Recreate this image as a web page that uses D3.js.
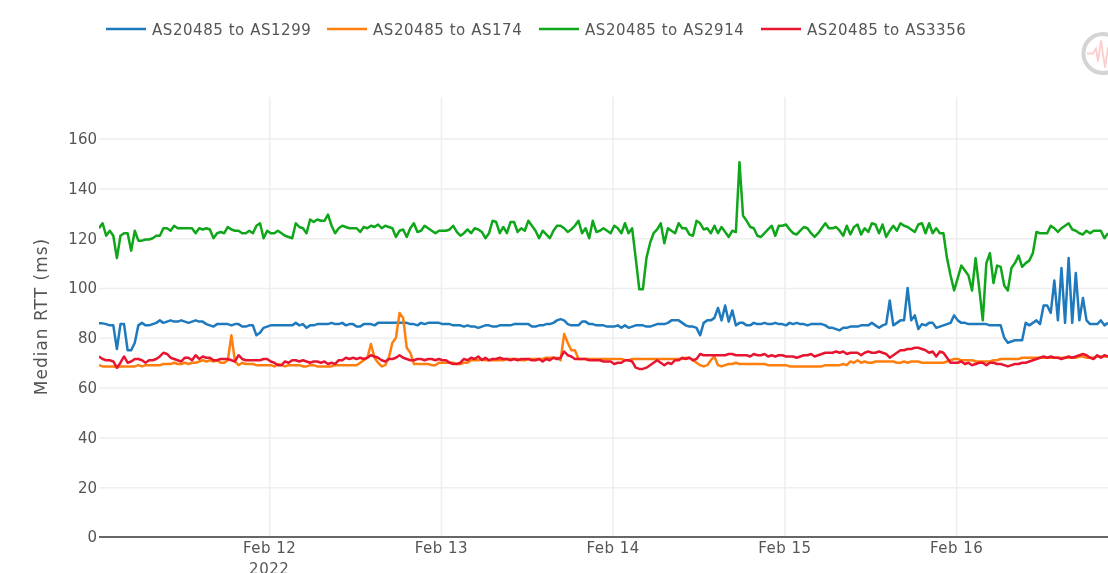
<!DOCTYPE html>
<html><head><meta charset="utf-8">
<script src="https://cdn.jsdelivr.net/npm/d3@7/dist/d3.min.js"></script>
<style>html,body{margin:0;padding:0;background:#fff;overflow:hidden}svg{display:block;filter:blur(0.45px)}text{font-family:"DejaVu Sans",sans-serif;fill:#555}</style>
</head><body><svg id="c" width="1108" height="573"></svg>
<script>
const seriesNames=["AS20485 to AS1299","AS20485 to AS174","AS20485 to AS2914","AS20485 to AS3356"];
const seriesColors=["#1f7abd","#ff7f0e","#0fa61a","#e81530"];
const yTicks=[0,20,40,60,80,100,120,140,160];
const dayTicks=["2022-02-12","2022-02-13","2022-02-14","2022-02-15","2022-02-16"];
const dayLabels=["Feb 12","Feb 13","Feb 14","Feb 15","Feb 16"];
const firstTime="2022-02-11T00:13:00Z";
const as1299=[85.8,85.8,85.5,85,85,75.5,85.5,85.5,75,75,
78,85,86,85,85,85.5,86,87,86,86.5,
87,86.5,86.5,87,86.5,86,86.5,87,86.5,86.5,
85.5,85,84.5,85.5,85.5,85.5,85.5,85,85.5,85.5,
84.5,84.5,85,85,81,82,84,84.5,85,85,
85,85,85,85,85,86,85,85.5,84,85,
85,85.5,85.5,85.5,85.5,86,85.5,85.5,86,85,
85.5,85.5,84.5,84.5,85.5,85.5,85.5,85,86,86,
86,86,86,86,86,86,86,85.5,85.5,85,
86,85.5,86,86,86,86,85.5,85.5,85.5,85,
85,85,84.5,85,84.5,84.5,84,84.5,85,85,
84.5,84.5,85,85,85,85,85.5,85.5,85.5,85.5,
85.5,84.5,84.5,85,85,85.5,85.5,86,87,87.5,
87,85.5,85,85,85,86.5,86.5,85.5,85.5,85,
85,85,84.5,84.5,84.5,85,84,85,84,84.5,
85,85,85,84.5,84.5,85,85.5,85.5,85.5,86,
87,87,87,86,85,84.5,84.5,84,81,86,
87,87,88,92,87,93,86.5,91,85,86,
86,85,85,86,85.5,85.5,86,85.5,85.5,86,
85.5,85.5,85,86,85.5,86,85.5,85.5,85,85.5,
85.5,85.5,85.5,85,84,84,83.5,83,84,84,
84.5,84.5,84.5,85,85,85,86,85,84,85,
85.5,95,85,86,87,87,100,87,89,83.5,
85.5,85,86,86,84,84.5,85,85.5,86,89,
87,86,86,85.5,85.5,85.5,85.5,85.5,85.5,85,
85,85,85,80,78,78.5,79,79,79,86,
85,86,87,85.5,93,93,90,103,87,108,
86,112,86,106,87,96,87,85.5,85.5,85.5,
87,85,86];
const as174=[69,68.5,68.5,68.5,68.5,68,68.5,68.5,68.5,68.5,
68.5,69,68.5,69,69,69,69,69,69.5,69.5,
69.5,70,69.5,69.5,70,69.5,70,70,70.5,71,
70.5,71,70.5,71,70,70,71,81,70.5,69,
70,69.5,69.5,69.5,69,69,69,69,69,68.5,
69.5,69,68.5,69,69,69,69,68.5,68.5,69,
69,68.5,68.5,68.5,68.5,68.5,69,69,69,69,
69,69,69,70,71,72,77.5,72,70,68.5,
69,72,78,80,90,88,76,74,69.5,69.5,
69.5,69.5,69.5,69,69,70,70,70,70,70,
69.5,69.5,70,70,71,71,71,71.5,71,71,
71,71,71,71,71.5,71.5,71.5,71.5,71,71,
71.5,71.5,71.5,71.5,71.5,72,72,72,72,71,
81.5,78,75,75,71.5,71.5,71.5,71.5,71.5,71.5,
71.5,71.5,71.5,71.5,71.5,71.5,71.5,71,71,71.5,
71.5,71.5,71.5,71.5,71.5,71.5,71.5,71.5,71.5,71.5,
71.5,71.5,71.5,71.5,72,72,71,70,69,68.5,
69,71,72.5,69,68.5,69,69.5,69.5,70,69.5,
69.5,69.5,69.5,69.5,69.5,69.5,69.5,69,69,69,
69,69,69,68.5,68.5,68.5,68.5,68.5,68.5,68.5,
68.5,68.5,68.5,69,69,69,69,69,69.5,69,
70.5,70,71,70,70.5,70,70,70.5,70.5,70.5,
70.5,70.5,70.5,70,70,70.5,70,70.5,70.5,70.5,
70,70,70,70,70,70,70,70.5,71,71.5,
71.5,71,71,71,71,70.5,70.5,70.5,70.5,70.5,
71,71,71.5,71.5,71.5,71.5,71.5,71.5,72,72,
72,72,72,72,72,72,72,72,72,72,
72,72,72,72,72.5,72.5,72,72,72,72.5,
72.5,72.5,72.5];
const as2914=[124,126,121,123,121,112,121,122,122,115,
123,119,119,119.5,119.5,120,121,121,124,124,
123,125,124,124,124,124,124,122,124,123.5,
124,123.5,120,122,122.5,122,124.5,123.5,123,123,
122,122,123,122,125,126,120,123,122,122,
123,122,121,120.5,120,126,124.5,124,122,127.5,
126.5,127.5,127,127,129.5,125,122,124,125,124.5,
124,124,124,122.5,124.5,124,125,124.5,125.5,124,
125,124.5,124,120.5,123,123.5,120.5,124,126,122.5,
123,125,124,123,122,123,123,123,123.5,125,
122.5,121,122,123.5,122,124,123.5,122.5,120,122,
127,126.5,122,124.5,122,126.5,126.5,122.5,124,123,
127,125,123,120,123,121.5,120,123,125,125,
124,122.5,123.5,125,127,122,124,120,127,122.5,
123,124,123,122,125,124,122,126,122,124,
112,99.5,99.5,112,118,122,123.5,126,118,124,
123,122,126,124,124,121.5,121,127,126,123.5,
124,122,125,122,124.5,122.5,120.5,123,122.5,150.5,
129,127,124.5,124,121,120.5,122,123.5,125,121,
125,125,125.5,123.5,122,121.5,123,124.5,124,122,
120.5,122,124,126,124,124,124.5,123,121,125,
121.5,124.5,125.5,121.5,124,122.5,126,125.5,122,125.5,
120.5,123,125,123,126,125,124.5,123.5,122.5,125.5,
126,122,126,122,124,122,122,112,105,99,
104,109,107,105,99,112,100,87,110,114,
102,109,108.5,101,99,108,110,113,108.5,110,
111,114,122.5,122,122,122,125,124,122.5,124,
125,126,123.5,123,122,121.5,123,122,123,123,
123,120,122];
const as3356=[72.5,71.5,71,71,70.5,68,70,72.5,70,70.5,
71.5,71.5,71,70,71,71,71.5,72.5,74,73.5,
72,71.5,71,70.5,72,72,71,73,71.5,72.5,
72,72,71,71,71.5,71.5,71.5,71,70.5,73,
71.5,71,71,71,71,71,71.5,71.5,70.5,70,
69,69,70.5,70,71,71,70.5,71,70.5,70,
70.5,70.5,70,70.5,69.5,70,69.5,71,71,72,
71.5,72,71.5,72,71.5,72,73,72.5,72,71,
70.5,71.5,71.5,72,73,72,71.5,71,71,71.5,
71.5,71,71.5,71.5,71,71.5,71,71,70,69.5,
69.5,70,71.5,71,72,71.5,72.5,71,72,71,
71.5,71.5,72,71.5,71.5,71,71.5,71,71.5,71.5,
71.5,71,71,71.5,70.5,71.5,71,72,71.5,72,
74.5,73,72.5,71.5,71.5,71.5,71.5,71,71,71,
71,70.5,70.5,70.5,69.5,70,70,71,71,70.5,
68,67.5,67.5,68,69,70,71,70,69,70,
69.5,71,71,72,71.5,72,71,71.5,73.5,73,
73,73,73,73,73,73,73.5,73.5,73,73,
73,73,72.5,73.5,73,73,73.5,72.5,73,72.5,
73,73,72.5,72.5,72.5,72,72.5,73,73,73.5,
72.5,73,73.5,74,74,74,74.5,74,74.5,73.5,
74,74,74,73,74,74.5,74,74,74.5,74,
73.5,72,73,74,75,75,75.5,75.5,76,76,
75.5,75,74,74.5,72.5,74.5,74,72,70,70,
70,70.5,69.5,70,69,69.5,70,70,69,70,
70,69.5,69.5,69,68.5,69,69.5,69.5,70,70,
70.5,71,71.5,72,72.5,72,72.5,72,72,71.5,
72,72.5,72,72.5,73,73.5,73,72,71.5,73,
72,73,72.5];
const allSeries=[as1299,as174,as2914,as3356];

const svg=d3.select("#c");
const L=99,R=1108,T=97,B=537;
const start=new Date(firstTime);
const times=as1299.map((_,i)=>d3.utcMinute.offset(start,i*30));
const x=d3.scaleUtc().domain([start,d3.utcMinute.offset(start,30*282)]).range([L,R]);
const y=d3.scaleLinear().domain([0,160]).range([B,138.6]);

svg.append("clipPath").attr("id","plot").append("rect").attr("x",L).attr("y",T).attr("width",R-L).attr("height",B-T);

const gy=svg.append("g").attr("transform",`translate(${L},0)`)
 .call(d3.axisLeft(y).tickValues(yTicks).tickSize(0).tickPadding(2));
gy.select(".domain").remove();
gy.selectAll("text").style("font-size","15px").attr("fill","#555");
gy.selectAll("g.tick").filter(d=>d!==0).append("line").attr("x2",R-L).attr("stroke","#eeeeee").attr("stroke-width",1.5);

const gx=svg.append("g").attr("transform",`translate(0,${B})`)
 .call(d3.axisBottom(x).tickValues(dayTicks.map(d=>new Date(d+"T00:00:00Z"))).tickFormat((d,i)=>dayLabels[i]).tickSize(0).tickPadding(5.5));
gx.select(".domain").remove();
gx.selectAll("text").style("font-size","15px").style("letter-spacing","0.5px").attr("fill","#555");
gx.selectAll("g.tick").append("line").attr("y2",T-B).attr("stroke","#eeeeee").attr("stroke-width",1.5);
svg.append("text").attr("x",x(new Date(dayTicks[0]+"T00:00:00Z"))).attr("y",574).attr("text-anchor","middle").style("font-size","15px").style("letter-spacing","0.5px").text("2022");

svg.append("line").attr("x1",L).attr("x2",R).attr("y1",y(0)).attr("y2",y(0)).attr("stroke","#666").attr("stroke-width",2);

svg.append("text").attr("transform",`translate(47,316.5) rotate(-90)`).attr("text-anchor","middle").style("font-size","17px").style("letter-spacing","1px").text("Median RTT (ms)");

const line=d3.line().x((d,i)=>x(times[i])).y(d=>y(d)).curve(d3.curveLinear);
svg.append("g").attr("clip-path","url(#plot)").selectAll("path").data(allSeries).join("path")
 .attr("d",line).attr("fill","none").attr("stroke",(d,i)=>seriesColors[i]).attr("stroke-width",2.5).attr("stroke-linejoin","round");

const legendX=[106,327,539,761];
const lg=svg.append("g").selectAll("g").data(seriesNames).join("g").attr("transform",(d,i)=>`translate(${legendX[i]},29)`);
lg.append("line").attr("x2",40).attr("stroke",(d,i)=>seriesColors[i]).attr("stroke-width",2.5);
lg.append("text").attr("x",46).attr("y",5.5).style("font-size","15px").style("letter-spacing","0.55px").text(d=>d);

const logo=svg.append("g").attr("transform","translate(1103,53.5)");
logo.append("circle").attr("r",19.5).attr("fill","none").attr("stroke","#d4d4d4").attr("stroke-width",4);
logo.append("path").attr("d","M-16,0L-10,0L-7,-5L-5,8L-2,-13L2,14L5,-6L8,4L12,-3L16,0").attr("fill","none").attr("stroke","#fcc").attr("stroke-width",1.8);
</script></body></html>
